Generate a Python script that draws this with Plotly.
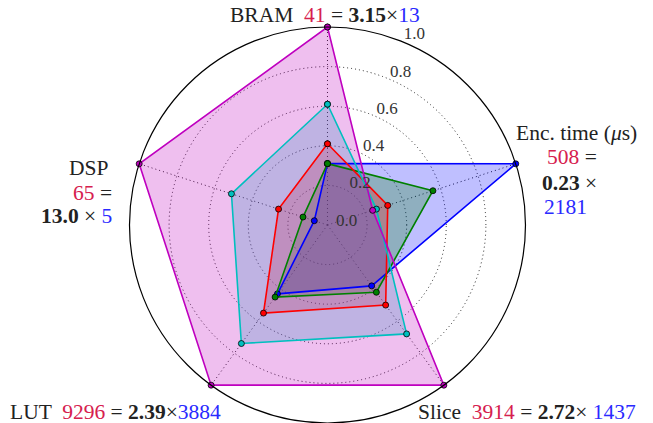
import plotly.graph_objects as go

# Resource axes, clockwise from the top
axes = ["BRAM", "Enc. time", "Slice", "LUT", "DSP"]

# Normalised value of each design on every axis
magenta_vals = [1.00, 0.24, 1.00, 1.00, 1.00]
cyan_vals = [0.61, 0.26, 0.68, 0.74, 0.51]
red_vals = [0.41, 0.32, 0.50, 0.55, 0.26]
green_vals = [0.31, 0.56, 0.42, 0.45, 0.13]
blue_vals = [0.31, 1.00, 0.38, 0.43, 0.07]

radial_ticks = [0.0, 0.2, 0.4, 0.6, 0.8, 1.0]

# drawn bottom to top
series = [
    ("blue", blue_vals, "#0000ff", "rgba(0,0,255,0.25)"),
    ("green", green_vals, "#008000", "rgba(0,128,0,0.25)"),
    ("red", red_vals, "#ff0000", "rgba(255,0,0,0.25)"),
    ("cyan", cyan_vals, "#00bfbf", "rgba(0,191,191,0.25)"),
    ("magenta", magenta_vals, "#bf00bf", "rgba(191,0,191,0.25)"),
]

FONT = "Liberation Serif"
RED_TXT = "#d6204e"
BLUE_TXT = "#2a2aff"

fig = go.Figure()
# translucent areas first, so every outline sits above all of them
for name, vals, col, fillcol in series:
    fig.add_trace(go.Scatterpolar(
        r=vals + vals[:1],
        theta=axes + axes[:1],
        mode="none",
        fill="toself",
        fillcolor=fillcol,
        name=name,
        showlegend=False,
        hoverinfo="skip",
    ))
for name, vals, col, fillcol in series:
    fig.add_trace(go.Scatterpolar(
        r=vals + vals[:1],
        theta=axes + axes[:1],
        mode="lines+markers",
        line=dict(color=col, width=1.6),
        marker=dict(size=6, color=col, line=dict(color="black", width=0.8)),
        name=name,
        showlegend=False,
    ))

fig.update_layout(
    width=653, height=423,
    margin=dict(l=0, r=0, t=0, b=0),
    paper_bgcolor="white",
    plot_bgcolor="white",
    font=dict(family=FONT, size=17, color="#222"),
    polar=dict(
        domain=dict(x=[0.1983, 0.8047], y=[0.0, 0.9362]),
        bgcolor="white",
        angularaxis=dict(
            direction="clockwise",
            rotation=90,
            showticklabels=False,
            ticks="",
            showgrid=True,
            gridcolor="#222",
            griddash="1px,3px",
            gridwidth=1,
            showline=True,
            linecolor="black",
            linewidth=1.2,
        ),
        radialaxis=dict(
            range=[0, 1],
            tickvals=radial_ticks,
            # trailing blank line lifts each label above its ring
            ticktext=[f"{v:.1f}<br> " for v in radial_ticks],
            angle=70,
            tickangle=70,
            showline=False,
            ticks="",
            showgrid=True,
            gridcolor="#222",
            griddash="1px,3px",
            gridwidth=1,
            tickfont=dict(family=FONT, size=17, color="#333"),
        ),
    ),
)

def lab(x, y, text, anchor="center"):
    fig.add_annotation(
        x=x / 653, y=1 - y / 423, xref="paper", yref="paper",
        text=text, showarrow=False, xanchor=anchor, yanchor="middle",
        font=dict(family=FONT, size=21.5, color="#222"),
    )

def red(t):
    return f"<span style='color:{RED_TXT}'>{t}</span>"

def blue(t):
    return f"<span style='color:{BLUE_TXT}'>{t}</span>"

lab(325, 15, f"BRAM  {red('41')} = <b>3.15</b>×{blue('13')}")
lab(576, 133, "Enc. time (<i>μ</i>s)")
lab(545, 157, f"{red('508')} =", "left")
lab(540, 183, "<b>0.23</b> ×", "left")
lab(542, 207, blue("2181"), "left")
lab(89, 168, "DSP")
lab(71, 193, f"{red('65')} =", "left")
lab(39, 216, f"<b>13.0</b> × {blue('5')}", "left")
lab(8, 412, f"LUT  {red('9296')} = <b>2.39</b>×{blue('3884')}", "left")
lab(416, 412, f"Slice  {red('3914')} = <b>2.72</b>× {blue('1437')}", "left")

fig.write_html("out.html")
